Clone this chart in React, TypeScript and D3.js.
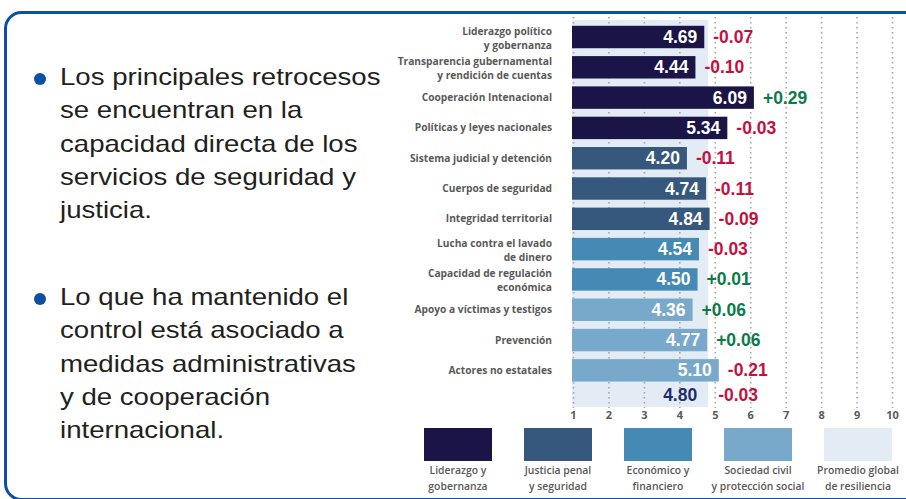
import React from "react";
import * as d3 from "d3";

const categories: string[][] = [
  ["Liderazgo político", "y gobernanza"],
  ["Transparencia gubernamental", "y rendición de cuentas"],
  ["Cooperación Intenacional"],
  ["Políticas y leyes nacionales"],
  ["Sistema judicial y detención"],
  ["Cuerpos de seguridad"],
  ["Integridad territorial"],
  ["Lucha contra el lavado", "de dinero"],
  ["Capacidad de regulación", "económica"],
  ["Apoyo a víctimas y testigos"],
  ["Prevención"],
  ["Actores no estatales"],
];
const values = [4.69, 4.44, 6.09, 5.34, 4.2, 4.74, 4.84, 4.54, 4.5, 4.36, 4.77, 5.1];
const changes = [-0.07, -0.1, 0.29, -0.03, -0.11, -0.11, -0.09, -0.03, 0.01, 0.06, 0.06, -0.21];
const groups = [0, 0, 0, 0, 1, 1, 1, 2, 2, 3, 3, 3];
const globalAvg = 4.8;
const globalChange = -0.03;
const ticks = [1, 2, 3, 4, 5, 6, 7, 8, 9, 10];
const legendLabels: string[][] = [
  ["Liderazgo y", "gobernanza"],
  ["Justicia penal", "y seguridad"],
  ["Económico y", "financiero"],
  ["Sociedad civil", "y protección social"],
  ["Promedio global", "de resiliencia"],
];
const groupColors = ["#1b1446", "#37587d", "#4589b5", "#79a9ca", "#e3ebf4"];
const bullets: string[][] = [
  ["Los principales retrocesos", "se encuentran en la", "capacidad directa de los", "servicios de seguridad y", "justicia."],
  ["Lo que ha mantenido el", "control está asociado a", "medidas administrativas", "y de cooperación", "internacional."],
];

const W = 906;
const H = 499;
const RED = "#c3113f";
const GREEN = "#0b7b49";
const GRAY = "#595959";
const LABEL_FONT = "'Open Sans', Lato, sans-serif";
const NUM_FONT = "'Liberation Sans', Arial, sans-serif";

export default function App() {
  const x = d3.scaleLinear().domain([1, 10]).range([573.5, 892.5]);
  const rows = d3.range(categories.length + 1);
  const y = d3
    .scaleBand<number>()
    .domain(rows)
    .range([21.85, 415.8])
    .paddingInner(0.26)
    .paddingOuter(0.13);
  const bw = y.bandwidth();
  const fmtV = d3.format(".2f");
  const fmtC = (c: number) => (c > 0 ? "+" : c < 0 ? "-" : "") + d3.format(".2f")(Math.abs(c));
  const avgRow = categories.length;
  const cAvg = (y(avgRow) as number) + bw / 2;

  return (
    <svg width={W} height={H} style={{ display: "block", position: "absolute", left: 0, top: 0 }}>
      <rect x={0} y={0} width={W} height={H} fill="#ffffff" />
      {/* frame */}
      <rect x={5.5} y={12.5} width={960} height={487} rx={16} ry={16} fill="none" stroke="#0d4fa3" strokeWidth={3} />

      {/* bullet text */}
      {bullets.map((lines, bi) => {
        const top = bi === 0 ? 85 : 305;
        return (
          <g key={bi}>
            <circle cx={40} cy={top - 6} r={6} fill="#0d4fa3" />
            <g transform="translate(60,0) scale(1.2,1)">
              {lines.map((l, li) => (
                <text key={li} x={0} y={top + li * 33.3} fontFamily={NUM_FONT} fontSize={23} fill="#231f20">
                  {l}
                </text>
              ))}
            </g>
          </g>
        );
      })}

      {/* global average band */}
      <rect x={x(1) - 1.5} y={20} width={x(globalAvg) - x(1) + 1.5} height={387} fill={groupColors[4]} />

      {/* dotted gridlines */}
      {ticks.map((t) => (
        <line
          key={t}
          x1={x(t)}
          x2={x(t)}
          y1={17}
          y2={408}
          stroke="#a6a6a6"
          strokeWidth={1.6}
          strokeDasharray="1.6 3.4"
        />
      ))}

      {/* bars */}
      {values.map((v, i) => {
        const top = y(i) as number;
        const c = top + bw / 2;
        const end = x(v);
        const lines = categories[i];
        return (
          <g key={i}>
            <rect x={x(1) - 1.5} y={top} width={end - x(1) + 1.5} height={bw} fill={groupColors[groups[i]]} />
            <text x={end - 7} y={c + 6} textAnchor="end" fontFamily={NUM_FONT} fontWeight="bold" fontSize={17.5} fill="#ffffff">
              {fmtV(v)}
            </text>
            <text x={end + 9} y={c + 6} fontFamily={NUM_FONT} fontWeight="bold" fontSize={17.5} fill={changes[i] >= 0 ? GREEN : RED}>
              {fmtC(changes[i])}
            </text>
            {lines.length === 1 ? (
              <text x={552} y={c + 3.5} textAnchor="end" fontFamily={LABEL_FONT} fontWeight={700} fontSize={10.2} fill={GRAY}>
                {lines[0]}
              </text>
            ) : (
              lines.map((l, li) => (
                <text
                  key={li}
                  x={552}
                  y={c - 2.5 + li * 14}
                  textAnchor="end"
                  fontFamily={LABEL_FONT}
                  fontWeight={700}
                  fontSize={10.2}
                  fill={GRAY}
                >
                  {l}
                </text>
              ))
            )}
          </g>
        );
      })}

      {/* global average row */}
      <text x={x(globalAvg) - 11} y={cAvg} textAnchor="end" fontFamily={NUM_FONT} fontWeight="bold" fontSize={17.5} fill="#1b2f6e">
        {fmtV(globalAvg)}
      </text>
      <text x={x(globalAvg) + 10} y={cAvg} fontFamily={NUM_FONT} fontWeight="bold" fontSize={17.5} fill={globalChange >= 0 ? GREEN : RED}>
        {fmtC(globalChange)}
      </text>

      {/* tick labels */}
      {ticks.map((t) => (
        <text key={t} x={x(t)} y={419} textAnchor="middle" fontFamily={LABEL_FONT} fontWeight={700} fontSize={11} fill={GRAY}>
          {t}
        </text>
      ))}

      {/* legend */}
      {legendLabels.map((lines, i) => {
        const cx = 458 + i * 100;
        return (
          <g key={i}>
            <rect x={cx - 34} y={428} width={68} height={33} fill={groupColors[i]} />
            {lines.map((l, li) => (
              <text
                key={li}
                x={cx}
                y={474 + li * 16}
                textAnchor="middle"
                fontFamily={LABEL_FONT}
                fontWeight={600}
                fontSize={10.4}
                fill={GRAY}
              >
                {l}
              </text>
            ))}
          </g>
        );
      })}
    </svg>
  );
}
